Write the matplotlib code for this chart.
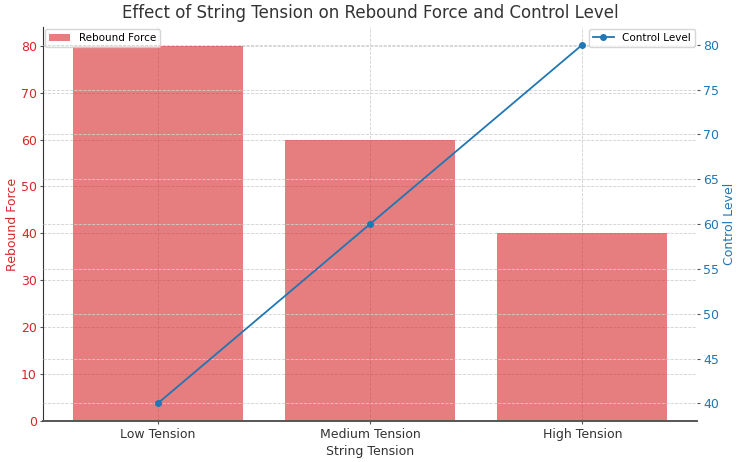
import matplotlib
matplotlib.use("Agg")
import matplotlib.pyplot as plt

categories = ["Low Tension", "Medium Tension", "High Tension"]
rebound_force = [80, 60, 40]
control_level = [40, 60, 80]

plt.rcParams['font.family'] = ['DejaVu Sans']
plt.rcParams['xtick.labelsize'] = 9
plt.rcParams['ytick.labelsize'] = 9
plt.rcParams['axes.labelsize'] = 9

fig, ax1 = plt.subplots(figsize=(7.43, 4.62), dpi=100)

ax1.bar(categories, rebound_force, color='tab:red', alpha=0.6, width=0.8, label='Rebound Force', zorder=2)
ax1.set_xlabel('String Tension', color='#333333', labelpad=3)
ax1.set_ylabel('Rebound Force', color='tab:red', labelpad=1)
ax1.tick_params(axis='y', labelcolor='tab:red', color='#555555', length=2.5, pad=2)
ax1.tick_params(axis='x', labelcolor='#333333', color='#555555', length=2.5, pad=2)
ax1.grid(True, ls='--', color='#d0d0d0', lw=0.6, zorder=0)
ax1.set_axisbelow(True)

ax2 = ax1.twinx()
ax2.plot(categories, control_level, color='tab:blue', marker='o', markersize=4, lw=1.3, label='Control Level')
ax2.set_ylabel('Control Level', color='tab:blue', labelpad=3)
ax2.tick_params(axis='y', labelcolor='tab:blue', color='#555555', length=2.5, pad=2)
ax2.grid(True, ls='--', color='#d0d0d0', lw=0.6)

for a in (ax1, ax2):
    a.spines['top'].set_visible(False)
    a.spines['right'].set_visible(False)
    a.spines['left'].set_color('#333333')
    a.spines['bottom'].set_color('#555555')
    a.spines['bottom'].set_linewidth(1.2)
ax2.spines['left'].set_visible(False)

ax1.legend(loc='upper left', fontsize=7.5, borderaxespad=0.2)
ax2.legend(loc='upper right', fontsize=7.5, borderaxespad=0.2)

ax1.set_title('Effect of String Tension on Rebound Force and Control Level', fontsize=12, color='#333333')

fig.subplots_adjust(left=0.058, right=0.938, top=0.942, bottom=0.088)
fig.savefig('out.png', dpi=100)
